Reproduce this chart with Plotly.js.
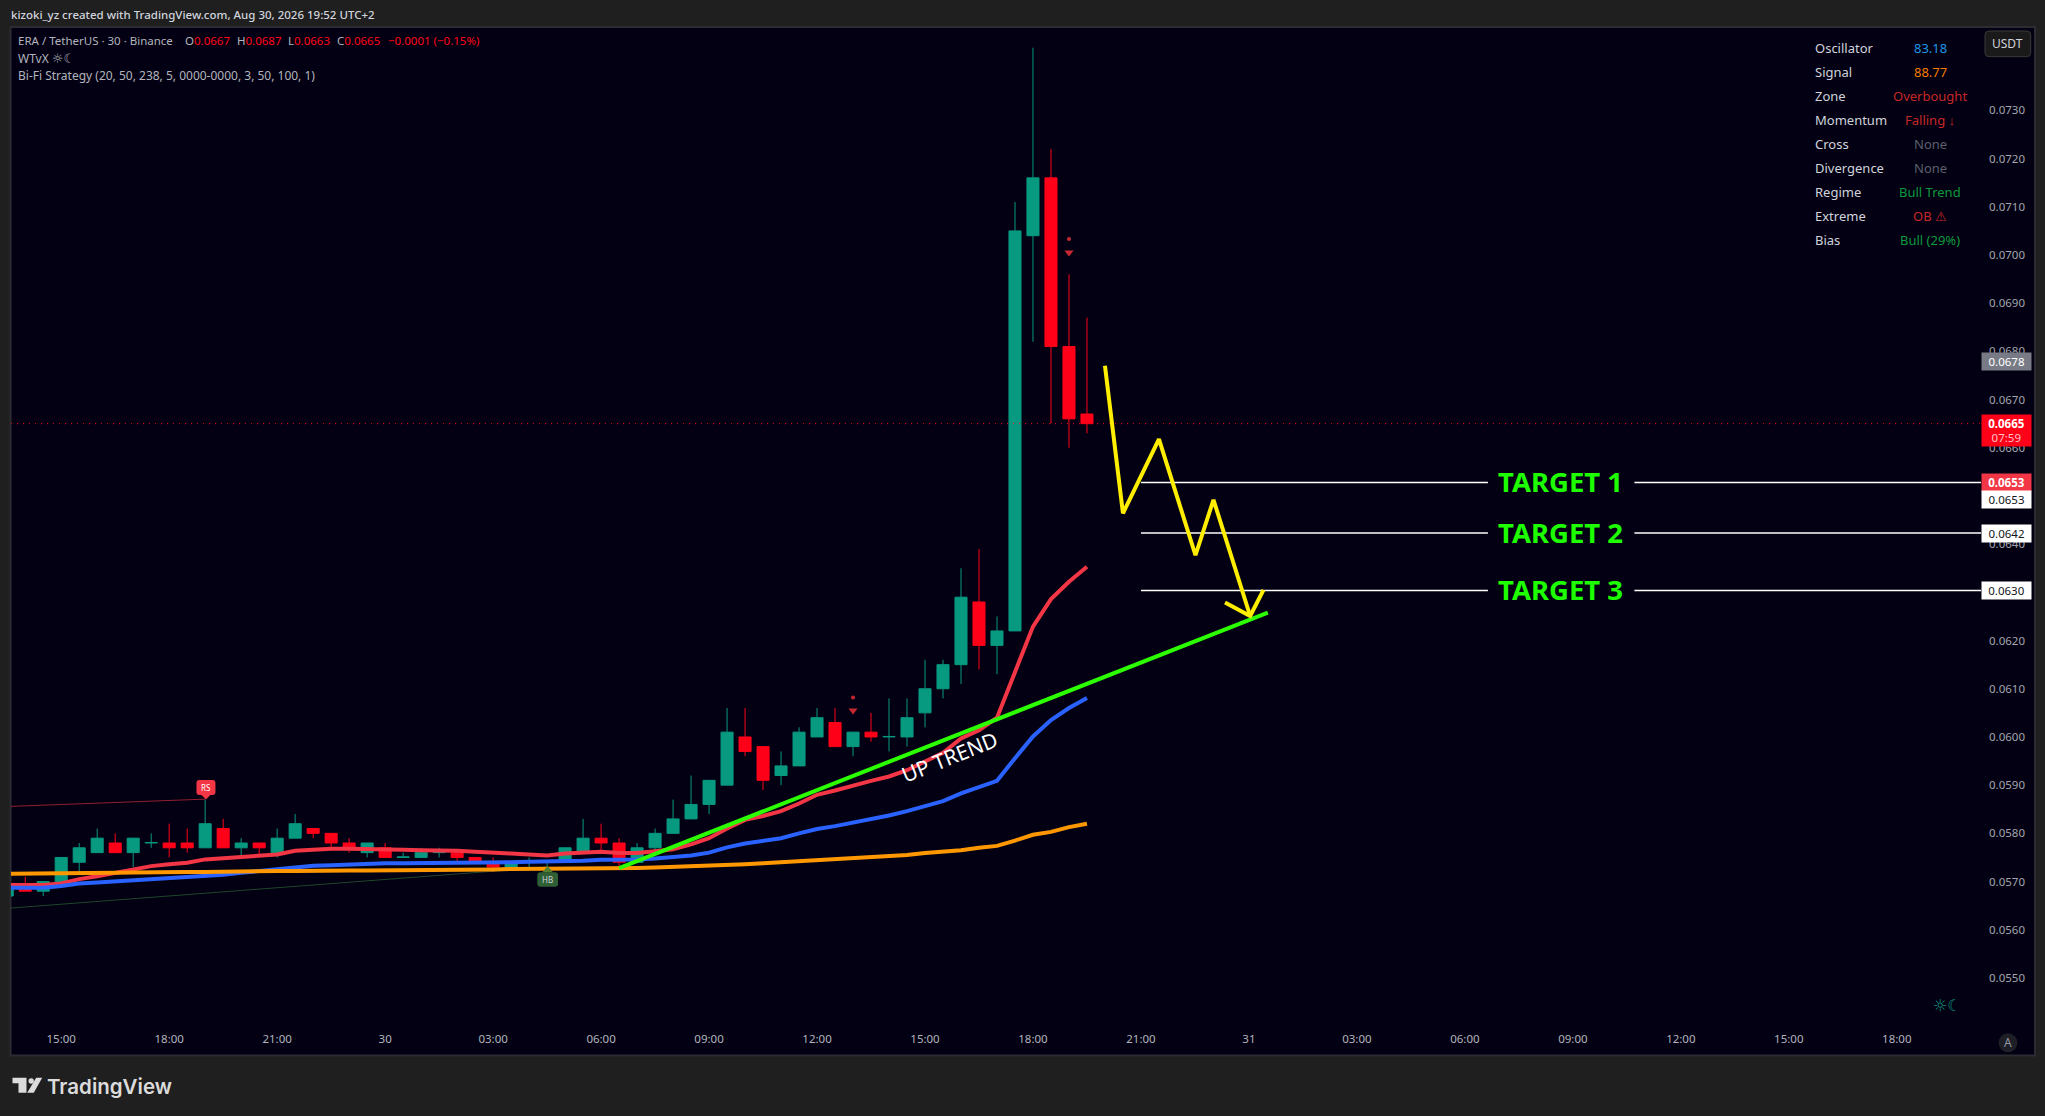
<!DOCTYPE html>
<html>
<head>
<meta charset="utf-8">
<script src="https://cdn.plot.ly/plotly-3.0.1.min.js"></script>
<style>html,body{margin:0;padding:0;background:#1f1f1f;overflow:hidden}</style>
</head>
<body>
<div id="chart" style="width:2045px;height:1116px"></div>
<script>
// ---------- values ----------
const firstBar = -3; // bars are numbered from the 15:00 bar, one per 30 minutes
const opens = [.0567,.0569,.0568,.0569,.0574,.0576,.0578,.0576,.0578,.0578,.0578,.0577,.0581,.0577,.0578,.0576,.0579,.0581,.0580,.0578,.0576,.0577,.0575,.0575,.0576,.0576,.0575,.0574,.0573,.0574,.0574,.0574,.0576,.0579,.0578,.0574,.0577,.0580,.0583,.0586,.0590,.0600,.0598,.0592,.0594,.0600,.0603,.0598,.0601,.0600,.0600,.0605,.0610,.0615,.0628,.0619,.0622,.0704,.0716,.0681,.0667];
const highs = [.0569,.0571,.0570,.0575,.0578,.0581,.0580,.0579,.0580,.0582,.0581,.0587,.0583,.0579,.0578,.0581,.0584,.0581,.0580,.0579,.0578,.0578,.0576,.0577,.0577,.0576,.0575,.0575,.0574,.0575,.0574,.0577,.0583,.0582,.0579,.0578,.0581,.0587,.0592,.0591,.0606,.0606,.0598,.0597,.0602,.0606,.0606,.0601,.0605,.0608,.0608,.0616,.0616,.0635,.0639,.0625,.0711,.0743,.0722,.0696,.0687];
const lows = [.0567,.0568,.0567,.0569,.0572,.0576,.0576,.0573,.0577,.0575,.0576,.0577,.0577,.0575,.0575,.0575,.0579,.0579,.0577,.0576,.0575,.0575,.0575,.0575,.0575,.0574,.0574,.0572,.0573,.0573,.0573,.0574,.0576,.0576,.0573,.0574,.0576,.0580,.0583,.0584,.0590,.0596,.0589,.0590,.0594,.0600,.0598,.0596,.0599,.0597,.0598,.0602,.0608,.0611,.0614,.0613,.0622,.0682,.0665,.0660,.0663];
const closes = [.0569,.0568,.0570,.0575,.0577,.0579,.0576,.0579,.05781,.0577,.0577,.0582,.0577,.0578,.0577,.0579,.0582,.0580,.0578,.0577,.0578,.0575,.05751,.0576,.05761,.0575,.0574,.0573,.0574,.05741,.05741,.0577,.0579,.0578,.0574,.0577,.0580,.0583,.0586,.0591,.0601,.0597,.0591,.0594,.0601,.0604,.0598,.0601,.0600,.06001,.0604,.0610,.0615,.0629,.0619,.0622,.0705,.0716,.0681,.0666,.0665];
const fastMA = [.05693,.05693,.05693,.05696,.05705,.05711,.05718,.05726,.05732,.05736,.05739,.05746,.05748,.05751,.05753,.05756,.05764,.05767,.05768,.05768,.05768,.05767,.05766,.05765,.05765,.05764,.05762,.05759,.05758,.05756,.05754,.05758,.05761,.05762,.05759,.05759,.05763,.05767,.05777,.05790,.05810,.05828,.05836,.05846,.05862,.05880,.05889,.05900,.05909,.05918,.05931,.05949,.05967,.05997,.06014,.06040,.06135,.06229,.06286,.06322,.06353];
const midMA = [.05687,.05687,.05687,.05691,.05696,.05698,.05700,.05702,.05705,.05707,.05709,.05711,.05714,.05718,.05722,.05727,.05730,.05733,.05734,.05736,.05737,.05738,.05738,.05738,.05739,.05739,.05740,.05740,.05740,.05741,.05741,.05742,.05743,.05745,.05745,.05746,.05748,.05750,.05754,.05760,.05771,.05779,.05784,.05790,.05800,.05809,.05815,.05822,.05830,.05837,.05846,.05856,.05867,.05883,.05895,.05909,.05956,.06001,.06035,.06060,.06081];
const slowMA = [.05716,.05716,.05717,.05717,.05718,.05718,.05718,.05719,.05720,.05720,.05720,.05720,.05721,.05721,.05721,.05722,.05722,.05723,.05723,.05723,.05723,.05723,.05723,.05724,.05725,.05725,.05725,.05725,.05726,.05726,.05727,.05727,.05727,.05727,.05727,.05728,.05729,.05730,.05731,.05732,.05734,.05736,.05738,.05740,.05742,.05744,.05746,.05748,.05750,.05752,.05755,.05759,.05761,.05765,.05770,.05774,.05785,.05797,.05803,.05813,.05820];

const trendX = [31, 67.05];
const trendY = [.05728, .06258];
const zigzagX = [58, 59, 61, 63.03, 64.03, 66.07];
const zigzagY = [.06770, .06464, .06618, .06377, .06492, .06251];
const arrowX = [64.67, 66.07, 66.81];
const arrowY = [.06279, .06251, .06305];
const targetPrices = [.06528, .06423, .06304];
const targetLabels = ['TARGET 1', 'TARGET 2', 'TARGET 3'];
const targetLeftX = [60, 79.28];
const targetRightX = [87.42, 106.7];
const swingHighX = [-2.79, 8];
const swingHighY = [.05856, .05871];
const swingLowX = [-2.79, 27];
const swingLowY = [.05645, .05730];
const signalTriX = [44, 56];
const signalTriY = [.06055, .07005];
const signalDotY = [.06082, .07033];

const xTickVals = [0,6,12,18,24,30,36,42,48,54,60,66,72,78,84,90,96,102];
const xTickText = ['15:00','18:00','21:00','30','03:00','06:00','09:00','12:00','15:00','18:00','21:00','31','03:00','06:00','09:00','12:00','15:00','18:00'];
const yTickVals = [.055,.056,.057,.058,.059,.060,.061,.062,.063,.064,.065,.066,.067,.068,.069,.070,.071,.072,.073];

const tableLabels = ['Oscillator','Signal','Zone','Momentum','Cross','Divergence','Regime','Extreme','Bias'];
const tableValues = ['83.18','88.77','Overbought','Falling ↓','None','None','Bull Trend','OB ⚠','Bull (29%)'];
const tableColors = ['#1e96e8','#f57c00','#c62828','#c62828','#5d606b','#5d606b','#0e9a3e','#c62828','#0e9a3e'];

// ---------- page geometry ----------
const L = 10.5, R = 1981, T = 27, B = 1030;
const X0 = -2.79, X1 = 106.68, Y0 = .05392, Y1 = .07473;
const FONT = '"Noto Sans", sans-serif';
const fx = p => (p - L) / (R - L);
const fy = p => 1 - (p - T) / (B - T);

const barX = opens.map((_, i) => i + firstBar);
const GREEN = '#089981', RED = '#ff0019';

function line(x, y, color, width) {
  return {type:'scatter', mode:'lines', x, y, hoverinfo:'skip', showlegend:false,
          line:{color, width, shape:'linear'}};
}

const traces = [
  line(swingHighX, swingHighY, 'rgba(242,54,69,0.6)', 1),
  line(swingLowX, swingLowY, 'rgba(76,175,80,0.4)', 1),
  line(barX, fastMA, '#f23645', 4),
  line(barX, midMA, '#2962ff', 4),
  line(barX, slowMA, '#ff9800', 4),
  {type:'candlestick', x:barX, open:opens, high:highs, low:lows, close:closes, whiskerwidth:0,
   hoverinfo:'skip', showlegend:false,
   increasing:{line:{color:GREEN, width:1}, fillcolor:GREEN},
   decreasing:{line:{color:RED, width:1}, fillcolor:RED}},
  {type:'scatter', mode:'markers', x:signalTriX, y:signalTriY, hoverinfo:'skip', showlegend:false,
   marker:{symbol:'triangle-down', size:8, color:'#c62832', line:{width:0}}},
  {type:'scatter', mode:'markers', x:signalTriX, y:signalDotY, hoverinfo:'skip', showlegend:false,
   marker:{symbol:'circle', size:4, color:'#c62832', line:{width:0}}},
];
targetPrices.forEach(p => {
  traces.push(line(targetLeftX, [p, p], '#ffffff', 1.5));
  traces.push(line(targetRightX, [p, p], '#ffffff', 1.5));
});
traces.push(line(trendX, trendY, '#2bff00', 4));
traces.push(line(zigzagX, zigzagY, '#ffee00', 4));
traces.push(line(arrowX, arrowY, '#ffee00', 4));

// ---------- annotations ----------
function txt(px, py, text, color, size, extra) {
  return Object.assign({xref:'paper', yref:'paper', x:fx(px), y:fy(py), text, showarrow:false,
    xanchor:'left', yanchor:'middle', borderpad:0,
    font:{family:FONT, size, color}}, extra || {});
}
function box(py, text, bg, color, h, dy, weight) {
  return {xref:'paper', yref:'paper', x:fx(2006.5), y:fy(py + (dy||0)), text, showarrow:false,
    xanchor:'center', yanchor:'middle', width:49, height:h, bgcolor:bg, borderpad:0, align:'center',
    font:{family:FONT, size:11.5, color, weight:weight||400}};
}
const priceY = p => T + (Y1 - p) / (Y1 - Y0) * (B - T);
const annotations = [
  txt(9, 14.2, 'kizoki_yz created with TradingView.com, Aug 30, 2026 19:52 UTC+2', '#d1d4dc', 11.5, {font:{family:FONT,size:11.5,color:'#d1d4dc',weight:500}}),
  txt(17, 41, 'ERA / TetherUS · 30 · Binance', '#b2b5be', 11.5),
  txt(184, 41, 'O<span style="color:#ff0019">0.0667</span>', '#b2b5be', 11.5),
  txt(236, 41, 'H<span style="color:#ff0019">0.0687</span>', '#b2b5be', 11.5),
  txt(287, 41, 'L<span style="color:#ff0019">0.0663</span>', '#b2b5be', 11.5),
  txt(336, 41, 'C<span style="color:#ff0019">0.0665</span>', '#b2b5be', 11.5),
  txt(387, 41, '−0.0001 (−0.15%)', '#ff0019', 11.5),
  txt(17, 58.3, 'WTvX <span style="font-family:\'DejaVu Sans\';font-size:13px">☼☾</span>', '#b2b5be', 12),
  txt(17, 75.3, 'Bi-Fi Strategy (20, 50, 238, 5, 0000-0000, 3, 50, 100, 1)', '#b2b5be', 12),
  txt(2007.7, 44, 'USDT', '#d1d4dc', 12, {xanchor:'center'}),
  txt(949, 757, 'UP TREND', '#ffffff', 21, {xanchor:'center', textangle:-21.8}),
  txt(205.5, 787.5, 'RS', '#ffffff', 8, {xanchor:'center'}),
  txt(547.3, 879.5, 'HB', '#d1d4dc', 8, {xanchor:'center'}),
  txt(1947, 1005, '☼☾', '#089981', 16, {xanchor:'center', font:{family:'"DejaVu Sans"', size:16, color:'#089981'}}),
  txt(2008, 1042.7, 'A', '#9598a1', 12, {xanchor:'center'}),
  txt(45.5, 1086, 'TradingView', '#dcdcdc', 20.5, {font:{family:'Inter, sans-serif', size:20.5, color:'#dcdcdc', weight:600}}),
  box(priceY(.0678), '0.0678', '#787b86', '#ffffff', 17),
  box(priceY(.0665) + 7, '<b>0.0665</b><br><span style="color:#ffc0c6">07:59</span>', RED, '#ffffff', 31),
  box(priceY(targetPrices[0]), '<b>0.0653</b>', '#f23645', '#ffffff', 17),
  box(priceY(targetPrices[0]), '0.0653', '#ffffff', '#131722', 17, 17),
  box(priceY(targetPrices[1]), '0.0642', '#ffffff', '#131722', 17),
  box(priceY(targetPrices[2]), '0.0630', '#ffffff', '#131722', 17),
];
tableLabels.forEach((label, i) => {
  const py = 47.6 + 24 * i;
  annotations.push(txt(1813.5, py, label, '#d1d4dc', 13));
  annotations.push(txt(1930, py, tableValues[i], tableColors[i], 13, {xanchor:'center'}));
});
targetLabels.forEach((label, i) => {
  annotations.push({xref:'paper', yref:'y', x:fx(1560.5), y:targetPrices[i], yshift:1, text:label, showarrow:false,
    xanchor:'center', yanchor:'middle', font:{family:FONT, size:27.5, color:'#1eff00', weight:700}});
});

// ---------- page chrome (pixel helpers for paths) ----------
function P(px, py) { return fx(px) + ',' + fy(py); }
function roundRect(x0, y0, x1, y1, r) {
  return 'M' + P(x0 + r, y0) + ' L' + P(x1 - r, y0) + ' Q' + P(x1, y0) + ' ' + P(x1, y0 + r) +
         ' L' + P(x1, y1 - r) + ' Q' + P(x1, y1) + ' ' + P(x1 - r, y1) +
         ' L' + P(x0 + r, y1) + ' Q' + P(x0, y1) + ' ' + P(x0, y1 - r) +
         ' L' + P(x0, y0 + r) + ' Q' + P(x0, y0) + ' ' + P(x0 + r, y0) + ' Z';
}
function poly(pts) { return 'M' + pts.map(p => P(p[0], p[1])).join(' L') + ' Z'; }
function pathShape(path, fill, lineColor, lw, layer) {
  return {type:'path', xref:'paper', yref:'paper', path, fillcolor:fill, layer:layer||'above',
          line:{color:lineColor||fill, width:lw||0}};
}
const shapes = [
  {type:'rect', xref:'paper', yref:'paper', layer:'below', x0:fx(10), x1:fx(2035), y0:fy(1055.5), y1:fy(27),
   fillcolor:'#020012', line:{color:'#2c2c33', width:2}},
  {type:'line', xref:'paper', yref:'y', layer:'above', x0:fx(L), x1:1, y0:.0665, y1:.0665,
   line:{color:'#ff0019', width:1, dash:'1px 5px'}},
  pathShape(roundRect(1985, 31, 2030.7, 56.7, 4), '#1a1a1a', '#3a3a3a', 1),
  pathShape(roundRect(196, 780, 215, 795, 3), '#f23645'),
  pathShape(poly([[200,794],[211,794],[205.5,799.5]]), '#f23645'),
  pathShape(roundRect(537, 872.3, 557.7, 886.7, 3), '#2f5f35'),
  pathShape(poly([[542,872.3],[552.6,872.3],[547.3,866]]), '#55802f'),
  {type:'circle', xref:'paper', yref:'paper', layer:'above', x0:fx(1998.5), x1:fx(2017.5), y0:fy(1052.2), y1:fy(1033.2),
   fillcolor:'#1e1e26', line:{width:0}},
  pathShape(poly([[12,1077.7],[26,1077.7],[26,1092.7],[18,1092.7],[18,1083.3],[12,1083.3]]), '#dcdcdc'),
  {type:'circle', xref:'paper', yref:'paper', layer:'above', x0:fx(28), x1:fx(33.4), y0:fy(1083.7), y1:fy(1078.3),
   fillcolor:'#dcdcdc', line:{width:0}},
  pathShape(poly([[35.7,1077.7],[41.7,1077.7],[33.3,1092.7],[26.7,1092.7]]), '#dcdcdc'),
];

const layout = {
  width:2045, height:1116, autosize:false,
  margin:{l:L, r:2045-R, t:T, b:1116-B, pad:0},
  paper_bgcolor:'#1f1f1f', plot_bgcolor:'rgba(0,0,0,0)',
  showlegend:false, hovermode:false, dragmode:false, boxgap:0.33, boxgroupgap:0,
  font:{family:FONT, color:'#b2b5be', size:11.5},
  xaxis:{type:'linear', range:[X0, X1], tickmode:'array', tickvals:xTickVals, ticktext:xTickText,
         showgrid:false, zeroline:false, showline:false, ticks:'', automargin:false, fixedrange:true,
         rangeslider:{visible:false}, tickfont:{family:FONT, size:11.5, color:'#b2b5be'}},
  yaxis:{type:'linear', side:'right', range:[Y0, Y1], tickmode:'array', tickvals:yTickVals, tickformat:'.4f',
         showgrid:false, zeroline:false, showline:false, ticks:'', automargin:false, fixedrange:true,
         ticklabelstandoff:7, tickfont:{family:FONT, size:11.5, color:'#a3a6af'}},
  annotations, shapes,
};
Plotly.newPlot('chart', traces, layout, {staticPlot:true, displayModeBar:false});
</script>
</body>
</html>
